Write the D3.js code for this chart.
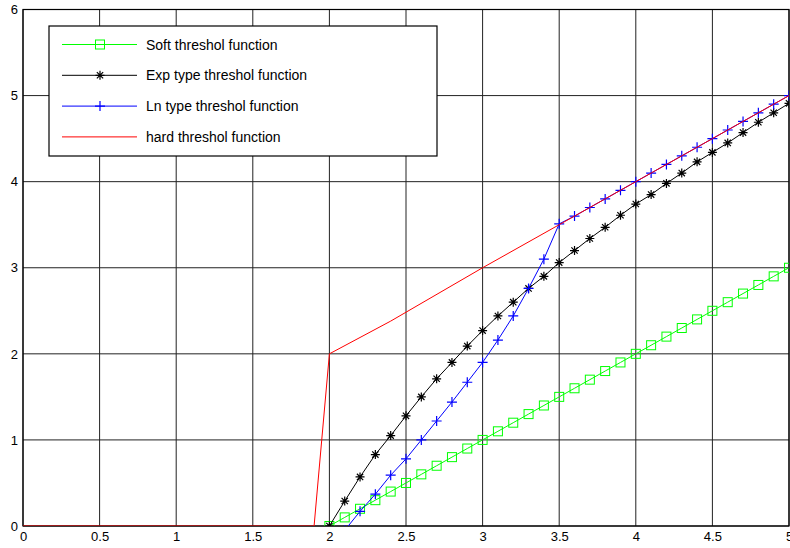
<!DOCTYPE html>
<html>
<head>
<meta charset="utf-8">
<script src="https://cdn.jsdelivr.net/npm/d3@7"></script>
<style>
  body { margin:0; background:#fff; }
  text { font-family: "Liberation Sans", Arial, sans-serif; }
</style>
</head>
<body>
<svg id="svg" width="790" height="548"></svg>
<script>
	// x positions shared by the curves
	var softX = [2.0,2.1,2.2,2.3,2.4,2.5,2.6,2.7,2.8,2.9,3.0,3.1,3.2,3.3,3.4,3.5,3.6,3.7,3.8,3.9,4.0,4.1,4.2,4.3,4.4,4.5,4.6,4.7,4.8,4.9,5.0];
	var softY = [0,0.1,0.2,0.3,0.4,0.5,0.6,0.7,0.8,0.9,1.0,1.1,1.2,1.3,1.4,1.5,1.6,1.7,1.8,1.9,2.0,2.1,2.2,2.3,2.4,2.5,2.6,2.7,2.8,2.9,3.0];

	var expX = softX;
	var expY = [0,0.29,0.57,0.83,1.05,1.28,1.50,1.71,1.90,2.09,2.27,2.44,2.60,2.76,2.90,3.06,3.20,3.34,3.47,3.61,3.74,3.85,3.98,4.10,4.23,4.34,4.45,4.57,4.69,4.80,4.91];

	var lnX = [2.1,2.2,2.3,2.4,2.5,2.6,2.7,2.8,2.9,3.0,3.1,3.2,3.3,3.4,3.5,3.6,3.7,3.8,3.9,4.0,4.1,4.2,4.3,4.4,4.5,4.6,4.7,4.8,4.9,5.0];
	var lnY = [-0.05,0.17,0.37,0.59,0.78,1.0,1.22,1.44,1.67,1.90,2.16,2.44,2.76,3.10,3.51,3.6,3.7,3.8,3.9,4.0,4.1,4.2,4.3,4.4,4.5,4.6,4.7,4.8,4.9,5.0];

	var hardX = [0,1.9,2.0,2.4,3.0,3.5,4.0,4.5,5.0];
	var hardY = [0,0,2.0,2.38,3.0,3.5,4.0,4.5,5.0];

	var xTicks = [0,0.5,1,1.5,2,2.5,3,3.5,4,4.5,5];
	var yTicks = [0,1,2,3,4,5,6];
	var legendNames = ["Soft threshol function","Exp type threshol function","Ln type threshol function","hard threshol function"];

	var svg = d3.select("#svg");

	var margin = {left:23, right:1, top:9.5, bottom:22};
	var width  = +svg.attr("width") - margin.left - margin.right;
	var height = +svg.attr("height") - margin.top - margin.bottom;

	var x = d3.scaleLinear().domain([0,5]).range([margin.left, margin.left + width]);
	var y = d3.scaleLinear().domain([0,6]).range([margin.top + height, margin.top]);

	svg.append("clipPath").attr("id","plotClip")
		.append("rect")
		.attr("x",margin.left).attr("y",margin.top)
		.attr("width",width).attr("height",height);

	// grid
	var grid = svg.append("g");
	grid.selectAll(".vg").data(xTicks).enter().append("line")
		.attr("x1",d=>x(d)).attr("x2",d=>x(d))
		.attr("y1",margin.top).attr("y2",margin.top + height)
		.style("stroke","#222").style("stroke-width",1);
	grid.selectAll(".hg").data(yTicks).enter().append("line")
		.attr("x1",margin.left).attr("x2",margin.left + width)
		.attr("y1",d=>y(d)).attr("y2",d=>y(d))
		.style("stroke","#222").style("stroke-width",1);

	// axes
	var xAxis = svg.append("g")
		.attr("transform","translate(0," + (margin.top + height) + ")")
		.call(d3.axisBottom(x).tickValues(xTicks).tickSize(0).tickPadding(6).tickFormat(d3.format("")));
	var yAxis = svg.append("g")
		.attr("transform","translate(" + margin.left + ",0)")
		.call(d3.axisLeft(y).tickValues(yTicks).tickSize(0).tickPadding(5).tickFormat(d3.format("d")));
	[xAxis,yAxis].forEach(a=>{
		a.select(".domain").remove();
		a.selectAll("text").style("font-size","13px").style("fill","#000")
			.style("font-family","'Liberation Sans', Arial, sans-serif");
	});

	// frame
	svg.append("rect")
		.attr("x",margin.left).attr("y",margin.top)
		.attr("width",width).attr("height",height)
		.style("fill","none").style("stroke","#000").style("stroke-width",1.2);

	// markers
	function drawMarker(g, type, color) {
		if (type === "square") {
			g.append("rect").attr("x",-4.5).attr("y",-4.5).attr("width",9).attr("height",9)
				.style("fill","none").style("stroke",color).style("stroke-width",1);
		} else if (type === "star") {
			var s = 4.5;
			var p = "M" + (-s) + ",0L" + s + ",0M0," + (-s) + "L0," + s +
				"M" + (-s*0.7) + "," + (-s*0.7) + "L" + (s*0.7) + "," + (s*0.7) +
				"M" + (-s*0.7) + "," + (s*0.7) + "L" + (s*0.7) + "," + (-s*0.7);
			g.append("path").attr("d",p).style("stroke",color).style("stroke-width",1.2).style("fill","none");
		} else if (type === "plus") {
			var s2 = 5;
			g.append("path").attr("d","M" + (-s2) + ",0L" + s2 + ",0M0," + (-s2) + "L0," + s2)
				.style("stroke",color).style("stroke-width",1.2).style("fill","none");
		}
	}

	var series = [
		{xs:softX, ys:softY, color:"#00ff00", marker:"square"},
		{xs:expX,  ys:expY,  color:"#000000", marker:"star"},
		{xs:lnX,   ys:lnY,   color:"#0000ff", marker:"plus"},
		{xs:hardX, ys:hardY, color:"#ff0000", marker:null}
	];

	var plot = svg.append("g").attr("clip-path","url(#plotClip)");
	var line = d3.line().x(d=>x(d[0])).y(d=>y(d[1]));

	series.forEach(s=>{
		var pts = s.xs.map((v,i)=>[v, s.ys[i]]);
		plot.append("path").datum(pts)
			.attr("d",line)
			.style("fill","none").style("stroke",s.color).style("stroke-width",1);
		if (s.marker) {
			pts.forEach(p=>{
				var g = plot.append("g").attr("transform","translate(" + x(p[0]) + "," + y(p[1]) + ")");
				drawMarker(g, s.marker, s.color);
			});
		}
	});

	// legend
	var legend = svg.append("g");
	legend.append("rect")
		.attr("x",49).attr("y",26).attr("width",388).attr("height",130)
		.style("fill","#fff").style("stroke","#000").style("stroke-width",1.2);
	series.forEach((s,i)=>{
		var ly = 44.5 + i*30.8;
		legend.append("line").attr("x1",62).attr("x2",137).attr("y1",ly).attr("y2",ly)
			.style("stroke",s.color).style("stroke-width",1);
		if (s.marker) {
			var g = legend.append("g").attr("transform","translate(100," + ly + ")");
			drawMarker(g, s.marker, s.color);
		}
		legend.append("text").attr("x",146).attr("y",ly + 5)
			.style("font-size","14px").style("fill","#000")
			.text(legendNames[i]);
	});
</script>
</body>
</html>
